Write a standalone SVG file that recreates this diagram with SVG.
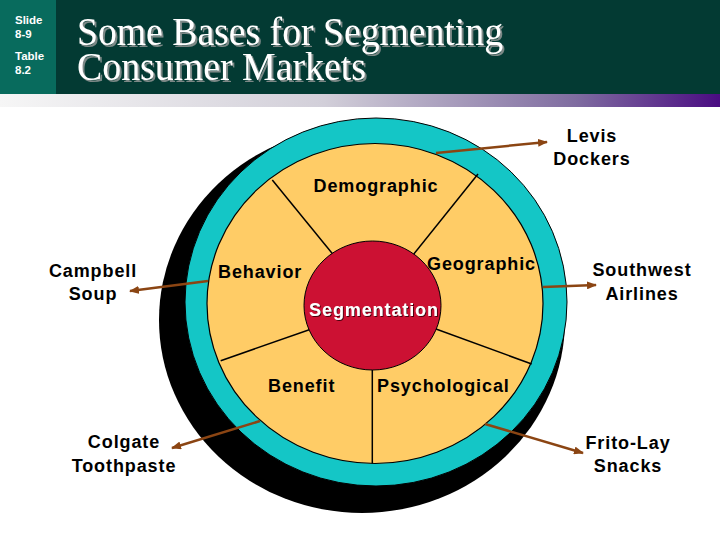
<svg xmlns="http://www.w3.org/2000/svg" width="720" height="540" viewBox="0 0 720 540">
  <defs>
    <linearGradient id="bar" x1="0" y1="0" x2="1" y2="0">
      <stop offset="0" stop-color="#f6f6f6"/>
      <stop offset="0.45" stop-color="#d2cfd9"/>
      <stop offset="0.8" stop-color="#7f6ca0"/>
      <stop offset="1" stop-color="#4a0c82"/>
    </linearGradient>
    <filter id="tshadow" x="-5%" y="-20%" width="110%" height="140%">
      <feOffset in="SourceAlpha" dx="2" dy="2" result="off"/>
      <feFlood flood-color="#7b8886"/>
      <feComposite in2="off" operator="in" result="sh"/>
      <feMerge><feMergeNode in="sh"/><feMergeNode in="SourceGraphic"/></feMerge>
    </filter>
    <filter id="sshadow" x="-5%" y="-20%" width="110%" height="140%">
      <feOffset in="SourceAlpha" dx="1" dy="1" result="off"/>
      <feFlood flood-color="#4a0010"/>
      <feComposite in2="off" operator="in" result="sh"/>
      <feMerge><feMergeNode in="sh"/><feMergeNode in="SourceGraphic"/></feMerge>
    </filter>
    <marker id="ah" markerWidth="10" markerHeight="8" refX="9" refY="4" orient="auto" markerUnits="userSpaceOnUse">
      <path d="M0,0 L10,4 L0,8 z" fill="#8b4513"/>
    </marker>
    <style>
      .lbl { font-family: "Liberation Sans", Arial, sans-serif; font-size: 18px; font-weight: bold; letter-spacing: 0.9px; fill: #000; }
      .side { font-family: "Liberation Sans", Arial, sans-serif; font-size: 11.5px; font-weight: bold; fill: #ffffff; }
      .title { font-family: "Liberation Serif", "Times New Roman", serif; font-size: 41px; fill: #ffffff; filter: url(#tshadow); }
      .arrow { stroke: #8b4513; stroke-width: 2.5; fill: none; marker-end: url(#ah); }
      .div { stroke: #000; stroke-width: 1.5; }
    </style>
  </defs>
  <rect width="720" height="540" fill="#ffffff"/>

  <g id="header">
    <rect x="0" y="0" width="720" height="94" fill="#033a33"/>
    <rect x="0" y="0" width="56" height="94" fill="#086b5d"/>
    <rect x="0" y="94" width="720" height="13" fill="url(#bar)"/>
    <text class="side" x="15" y="24">Slide</text>
    <text class="side" x="15" y="38">8-9</text>
    <text class="side" x="15" y="60">Table</text>
    <text class="side" x="15" y="74">8.2</text>
    <text class="title"><tspan x="77" y="45" textLength="426" lengthAdjust="spacingAndGlyphs">Some Bases for Segmenting</tspan><tspan x="77" y="80" textLength="289" lengthAdjust="spacingAndGlyphs">Consumer Markets</tspan></text>
  </g>

  <g id="wheel">
    <ellipse cx="362" cy="320" rx="203" ry="193" fill="#000"/>
    <ellipse cx="376" cy="302" rx="191" ry="184" fill="#14c6c6" stroke="#000" stroke-width="1"/>
    <ellipse cx="375" cy="303.5" rx="168" ry="160" fill="#ffcc66" stroke="#000" stroke-width="1.2"/>
    <line class="div" x1="272.3" y1="180" x2="340" y2="263"/>
    <line class="div" x1="478" y1="174" x2="405" y2="265"/>
    <line class="div" x1="531.7" y1="364" x2="425" y2="325"/>
    <line class="div" x1="372.3" y1="463.3" x2="372.3" y2="360"/>
    <line class="div" x1="220.7" y1="360.7" x2="320" y2="326"/>
  </g>

  <g id="segmentation">
    <ellipse cx="372.5" cy="305.5" rx="68.5" ry="64.5" fill="#cc1133" stroke="#000" stroke-width="1"/>
    <text class="lbl" x="374" y="316" text-anchor="middle" style="fill:#ffffff" filter="url(#sshadow)">Segmentation</text>
  </g>

  <g id="demographic"><text class="lbl" x="376" y="192" text-anchor="middle">Demographic</text></g>
  <g id="behavior"><text class="lbl" x="218" y="278">Behavior</text></g>
  <g id="geographic"><text class="lbl" x="427" y="270">Geographic</text></g>
  <g id="benefit"><text class="lbl" x="268" y="392">Benefit</text></g>
  <g id="psychological"><text class="lbl" x="377" y="392">Psychological</text></g>

  <g id="levis"><text class="lbl" x="592" y="142" text-anchor="middle">Levis</text><text class="lbl" x="592" y="165" text-anchor="middle">Dockers</text></g>
  <g id="campbell"><text class="lbl" x="93" y="277" text-anchor="middle">Campbell</text><text class="lbl" x="93" y="300" text-anchor="middle">Soup</text></g>
  <g id="southwest"><text class="lbl" x="642" y="276" text-anchor="middle">Southwest</text><text class="lbl" x="642" y="300" text-anchor="middle">Airlines</text></g>
  <g id="colgate"><text class="lbl" x="124" y="448" text-anchor="middle">Colgate</text><text class="lbl" x="124" y="472" text-anchor="middle">Toothpaste</text></g>
  <g id="fritolay"><text class="lbl" x="628" y="449" text-anchor="middle">Frito-Lay</text><text class="lbl" x="628" y="472" text-anchor="middle">Snacks</text></g>

  <g id="connectors">
    <line class="arrow" x1="436" y1="153" x2="547" y2="142"/>
    <line class="arrow" x1="208" y1="281" x2="130" y2="291"/>
    <line class="arrow" x1="543" y1="287" x2="596" y2="285"/>
    <line class="arrow" x1="260" y1="421" x2="172" y2="448"/>
    <line class="arrow" x1="485" y1="424" x2="583" y2="453"/>
  </g>
</svg>
